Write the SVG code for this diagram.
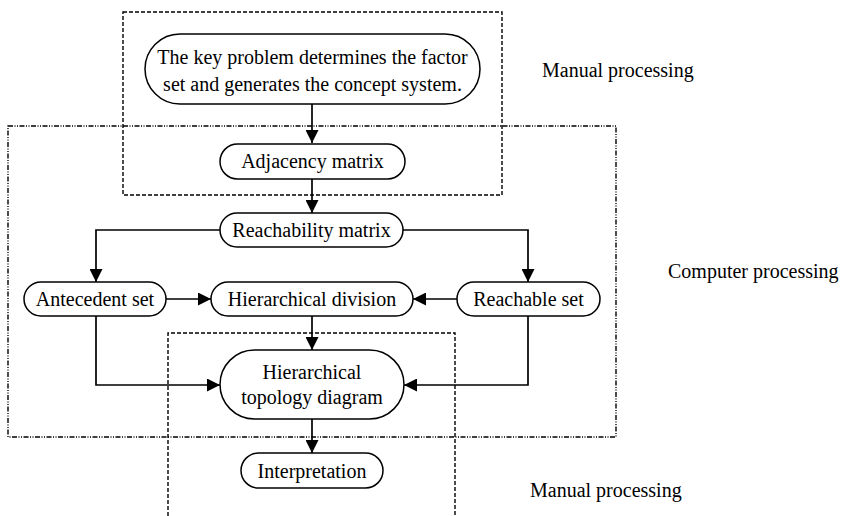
<svg xmlns="http://www.w3.org/2000/svg" width="842" height="516" viewBox="0 0 842 516">
<style>
.box{fill:#fff;stroke:#000;stroke-width:1.5}
.t{font-family:"Liberation Serif","Times New Roman",serif;font-size:20px;fill:#000}
.c{text-anchor:middle}
.ln{fill:none;stroke:#000;stroke-width:1.7}
.dash{fill:none;stroke:#000;stroke-width:1.4;stroke-dasharray:4 2}
.dd{fill:none;stroke:#000;stroke-width:1.4;stroke-dasharray:5 1.5 1 1.5 1 1.5}
</style>
<defs>
<marker id="ar" markerUnits="userSpaceOnUse" markerWidth="13" markerHeight="13" viewBox="0 0 13 13" refX="13" refY="6.5" orient="auto">
<path d="M0 0 L13 6.5 L0 13 Z" fill="#000"/>
</marker>
</defs>
<rect width="842" height="516" fill="#fff"/>
<g id="regions">
<rect class="dd" x="8" y="126" width="608" height="311"/>
<rect class="dash" x="123" y="12" width="379" height="183"/>
<path class="dash" d="M168 516 V333 H455 V516"/>
</g>
<g id="connectors">
<path class="ln" d="M312 104 V143" marker-end="url(#ar)"/>
<path class="ln" d="M312 179 V213" marker-end="url(#ar)"/>
<path class="ln" d="M220 230 H96 V282" marker-end="url(#ar)"/>
<path class="ln" d="M403 230 H528 V282" marker-end="url(#ar)"/>
<path class="ln" d="M166 299 H211" marker-end="url(#ar)"/>
<path class="ln" d="M457 299 H413" marker-end="url(#ar)"/>
<path class="ln" d="M312 316 V350" marker-end="url(#ar)"/>
<path class="ln" d="M96 316 V385 H220" marker-end="url(#ar)"/>
<path class="ln" d="M528 316 V385 H404" marker-end="url(#ar)"/>
<path class="ln" d="M312 419 V453" marker-end="url(#ar)"/>
</g>
<g id="n-key">
<rect class="box" x="145" y="34" width="335" height="70" rx="35"/>
<text class="t c" x="312.5" y="64">The key problem determines the factor</text>
<text class="t c" x="312.5" y="91">set and generates the concept system.</text>
</g>
<g id="n-adj">
<rect class="box" x="220" y="144" width="185" height="35" rx="17.5"/>
<text class="t c" x="312.5" y="168">Adjacency matrix</text>
</g>
<g id="n-reach">
<rect class="box" x="220" y="213" width="183" height="34" rx="17"/>
<text class="t c" x="311.5" y="237">Reachability matrix</text>
</g>
<g id="n-ante">
<rect class="box" x="24" y="282" width="142" height="34" rx="17"/>
<text class="t c" x="95" y="306">Antecedent set</text>
</g>
<g id="n-hdiv">
<rect class="box" x="211" y="282" width="202" height="34" rx="17"/>
<text class="t c" x="312" y="306">Hierarchical division</text>
</g>
<g id="n-reachable">
<rect class="box" x="457" y="282" width="143" height="34" rx="17"/>
<text class="t c" x="528.5" y="306">Reachable set</text>
</g>
<g id="n-topo">
<rect class="box" x="220" y="350" width="184" height="69" rx="34.5"/>
<text class="t c" x="312" y="379">Hierarchical</text>
<text class="t c" x="312" y="404">topology diagram</text>
</g>
<g id="n-interp">
<rect class="box" x="241" y="453" width="142" height="35" rx="17.5"/>
<text class="t c" x="312" y="478">Interpretation</text>
</g>
<g id="labels">
<text class="t" x="542" y="77">Manual processing</text>
<text class="t" x="668" y="278">Computer processing</text>
<text class="t" x="530" y="497">Manual processing</text>
</g>
</svg>
